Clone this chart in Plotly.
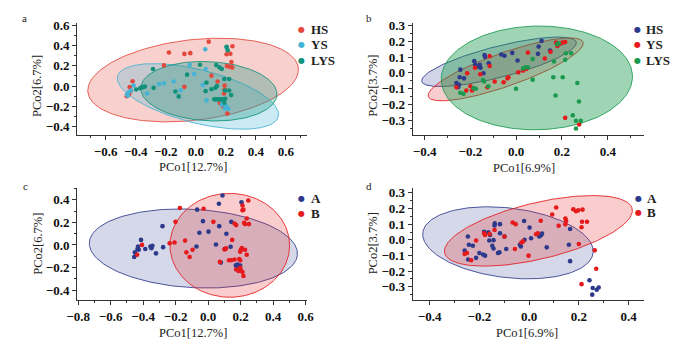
import numpy as np
import plotly.graph_objects as go

# ---------------- data ----------------
# Panel a (PCo1[12.7%] vs PCo2[6.7%])
a_HS_x = [0.086, -0.179, -0.076, -0.037, 0.244, 0.205, 0.23, 0.237, 0.207, 0.225, 0.242, -0.212, 0.104, 0.145,
          -0.076, -0.421, -0.44, -0.443, -0.432, -0.46, 0.192, 0.192, 0.188, 0.16, 0.17, 0.183, 0.21]
a_HS_y = [0.437, 0.33, 0.317, 0.324, 0.392, 0.314, 0.318, 0.236, 0.197, 0.19, 0.184, 0.204, 0.103, 0.045,
          -0.007, 0.048, -0.01, -0.078, -0.045, -0.1, 0.006, -0.033, -0.072, -0.166, -0.18, -0.2, -0.27]
a_YS_x = [0.063, 0.205, -0.041, -0.011, 0.065, -0.147, -0.212, -0.244, -0.324, -0.414, -0.432, -0.449, -0.458,
          -0.453, -0.101, 0.047, 0.071, 0.173, 0.205, 0.194, 0.216, 0.2, 0.18]
a_YS_y = [0.363, 0.38, 0.21, 0.119, 0.168, 0.045, 0.028, 0.019, -0.072, 0.006, -0.043, -0.063, -0.082,
          -0.095, -0.04, 0.012, -0.14, -0.182, -0.205, -0.221, -0.221, -0.19, -0.15]
a_LYS_x = [0.205, 0.212, 0.136, 0.158, 0.173, 0.028, 0.19, 0.222, 0.065, 0.104, 0.13, 0.194, 0.222, 0.235,
           0.123, 0.135, 0.147, 0.159, 0.171, 0.183, 0.19, 0.196, -0.058, -0.136, -0.114, -0.281, -0.352,
           -0.363, -0.339, -0.371, -0.397, -0.285, 0.071, 0.14]
a_LYS_y = [0.386, 0.353, 0.207, 0.184, 0.168, 0.21, 0.07, 0.07, -0.049, -0.03, -0.017, -0.043, -0.043, -0.088,
           -0.13, -0.13, -0.13, -0.13, -0.13, -0.13, -0.163, -0.124, 0.113, -0.053, -0.101, -0.017, -0.01,
           -0.014, -0.004, -0.02, -0.033, 0.168, 0.035, 0.0]

# Panel b (PCo1[6.9%] vs PCo2[3.7%])
b_HS_x = [0.111, 0.098, 0.148, 0.095, 0.186, -0.138, -0.136, -0.065, -0.051, -0.017, 0.006, -0.179, -0.159,
          -0.156, -0.183, -0.244, -0.247, -0.228, -0.143, -0.261, -0.254, -0.25, -0.17, -0.12]
b_HS_y = [0.202, 0.166, 0.141, 0.12, 0.181, 0.112, 0.101, 0.116, 0.108, 0.126, 0.078, 0.051, 0.051,
          0.032, 0.074, 0.02, -0.028, -0.035, -0.003, -0.064, -0.091, -0.076, 0.04, 0.06]
b_YS_x = [0.174, 0.193, 0.203, 0.214, 0.051, 0.125, 0.15, 0.044, 0.214, 0.275, -0.116, -0.18, -0.214, -0.157,
          -0.116, -0.094, -0.055, -0.038, -0.034, 0.009, 0.03, -0.2, -0.193, -0.218, -0.261, -0.126, 0.18]
b_YS_y = [0.191, 0.185, 0.191, 0.195, 0.128, 0.091, 0.133, 0.024, -0.285, -0.327, 0.106, 0.032, -0.003, -0.009,
          0.043, -0.055, -0.06, -0.035, -0.028, 0.003, 0.014, -0.085, -0.112, -0.112, -0.091, -0.091, 0.17]
b_LYS_x = [0.217, 0.24, 0.214, 0.072, 0.165, 0.051, 0.072, 0.162, 0.203, 0.267, 0.172, 0.274, 0.247, 0.261,
           0.282, 0.261, 0.186, 0.179, -0.145, -0.14, -0.186, -0.176, -0.244, -0.23, -0.122, -0.001, 0.03, 0.041]
b_LYS_y = [0.124, 0.124, 0.082, 0.087, 0.072, 0.035, -0.043, -0.028, -0.028, -0.064, -0.143, -0.181, -0.269,
           -0.304, -0.304, -0.352, 0.187, 0.181, -0.045, -0.055, -0.097, -0.101, -0.126, -0.133, -0.085,
           -0.101, 0.028, 0.035]

# Panel c (PCo1[12.7%] vs PCo2[6.7%])
c_A_x = [-0.281, -0.413, -0.431, -0.435, -0.427, -0.451, -0.455, -0.443, -0.387, -0.355, -0.343, -0.349, -0.321,
         -0.277, 0.088, 0.066, -0.068, 0.205, -0.032, 0.142, 0.068, 0.002, -0.054, 0.112, 0.048, 0.102, 0.138,
         -0.072, 0.078, 0.181, 0.187, 0.177, 0.197, 0.17, 0.19]
c_A_y = [0.167, 0.045, -0.013, -0.036, -0.042, -0.065, -0.106, -0.086, -0.036, -0.013, -0.007, -0.028, -0.074,
         -0.019, 0.438, 0.365, 0.313, 0.379, 0.211, 0.205, 0.167, 0.118, 0.109, 0.1, 0.004, -0.036, -0.016,
         -0.013, -0.156, -0.173, -0.188, -0.202, -0.182, -0.18, -0.2]
c_B_x = [-0.407, -0.437, -0.174, -0.201, -0.237, -0.207, -0.142, -0.134, -0.114, -0.096, 0.247, 0.211, 0.217,
         0.211, -0.028, 0.032, 0.162, 0.172, 0.221, 0.237, 0.227, 0.251, 0.148, 0.227, 0.201, 0.207, 0.197,
         0.237, 0.072, 0.128, 0.142, 0.162, 0.191, 0.197, 0.172, 0.187, 0.201, 0.211, 0.197, 0.217, 0.1, 0.11]
c_B_y = [0.001, -0.086, 0.327, 0.205, 0.016, 0.022, 0.039, -0.065, -0.106, -0.042, 0.394, 0.35, 0.313,
         0.307, 0.321, 0.205, 0.19, 0.176, 0.196, 0.234, 0.185, 0.185, 0.045, -0.042, -0.042, -0.028, -0.06,
         -0.086, -0.15, -0.135, -0.135, -0.129, -0.124, -0.135, -0.217, -0.231, -0.222, -0.24, -0.202, -0.275,
         -0.04, -0.03]

# Panel d (PCo1[6.9%] vs PCo2[3.7%])
d_A_x = [-0.246, -0.226, -0.242, -0.259, -0.245, -0.213, -0.2, -0.185, -0.177, -0.181, -0.164, -0.157, -0.16,
         -0.143, -0.148, -0.143, -0.138, -0.139, -0.117, -0.117, -0.099, -0.092, -0.125, -0.119, -0.037, -0.033,
         -0.018, -0.02, 0.002, 0.008, 0.041, 0.048, 0.052, 0.071, 0.165, 0.16, 0.165, 0.243, 0.256, 0.28,
         0.272, 0.254]
d_A_y = [0.021, -0.038, -0.031, -0.069, -0.126, -0.115, -0.084, -0.094, -0.101, 0.052, 0.048, 0.031, -0.004,
         -0.002, -0.038, -0.055, 0.105, 0.092, 0.1, 0.042, 0.021, -0.059, -0.084, -0.08, -0.031, -0.042,
         0.0, 0.12, 0.078, 0.01, 0.021, 0.03, 0.04, -0.048, 0.069, -0.031, -0.136, -0.258, -0.308, -0.304,
         -0.319, -0.35]
d_B_x = [-0.259, -0.25, -0.233, -0.213, -0.181, -0.177, -0.159, -0.139, -0.099, -0.066, -0.054, -0.057, -0.002,
         0.109, 0.093, 0.047, 0.028, 0.035, -0.031, -0.024, 0.146, 0.149, 0.146, 0.119, 0.178, 0.189, 0.198,
         0.215, 0.213, 0.233, 0.211, 0.2, 0.264, 0.27, 0.211]
d_B_y = [-0.09, -0.084, -0.13, -0.004, 0.042, 0.031, 0.038, 0.063, 0.021, 0.111, 0.1, -0.059, -0.101,
         0.206, 0.162, 0.122, 0.036, 0.042, -0.017, -0.01, 0.136, 0.12, 0.099, 0.09, 0.195, 0.183, 0.189,
         0.193, 0.115, 0.115, 0.08, -0.027, -0.067, -0.185, -0.283]

# Confidence ellipses: centre x, centre y, semi-axis 1, semi-axis 2, rotation (deg, data space)
a_ell_HS = [-0.018, 0.06, 0.712, 0.392, 12]
a_ell_YS = [0.014, -0.101, 0.573, 0.252, -23]
a_ell_LYS = [0.087, -0.05, 0.455, 0.29, -6]
b_ell_HS = [-0.075, 0.07, 0.36, 0.095, 21]
b_ell_YS = [-0.046, 0.022, 0.38, 0.10, 28]
b_ell_LYS = [0.09, -0.032, 0.418, 0.328, 3]
c_ell_A = [-0.091, -0.031, 0.6425, 0.346, -5.7]
c_ell_B = [0.133, -0.003, 0.368, 0.46, 0]
d_ell_A = [-0.085, -0.019, 0.35, 0.219, -15]
d_ell_B = [0.0375, 0.0575, 0.405, 0.172, 23.4]

# colours
C_HS_a, C_YS_a, C_LYS_a = "#e2483b", "#45b3d3", "#11917a"
C_NAVY, C_RED, C_GREEN = "#2d3a8c", "#e41a1c", "#1b9a4f"

FONT = "Liberation Serif"
W, H = 695, 346


def ellipse_xy(p):
    cx, cy, rx, ry, deg = p
    t = np.linspace(0, 2 * np.pi, 200)
    th = np.deg2rad(deg)
    ex = rx * np.cos(t)
    ey = ry * np.sin(t)
    return cx + ex * np.cos(th) - ey * np.sin(th), cy + ex * np.sin(th) + ey * np.cos(th)


def rgba(hexc, a):
    hexc = hexc.lstrip("#")
    r, g, b = int(hexc[0:2], 16), int(hexc[2:4], 16), int(hexc[4:6], 16)
    return f"rgba({r},{g},{b},{a})"


fig = go.Figure()


def add_ellipse(p, color, fa, ax):
    ex, ey = ellipse_xy(p)
    fig.add_trace(go.Scatter(x=ex, y=ey, mode="lines", fill="toself",
                             fillcolor=rgba(color, fa), line=dict(color=rgba(color, 0.85), width=1),
                             hoverinfo="skip", showlegend=False, xaxis="x" + ax, yaxis="y" + ax))


def add_points(xs, ys, color, ax, name):
    fig.add_trace(go.Scatter(x=xs, y=ys, mode="markers", name=name,
                             marker=dict(color=color, size=4.6, line=dict(width=0)),
                             showlegend=False, xaxis="x" + ax, yaxis="y" + ax))


# panel a
add_ellipse(a_ell_HS, C_HS_a, 0.25, "")
add_ellipse(a_ell_YS, C_YS_a, 0.28, "")
add_ellipse(a_ell_LYS, C_LYS_a, 0.30, "")
add_points(a_HS_x, a_HS_y, C_HS_a, "", "HS")
add_points(a_YS_x, a_YS_y, C_YS_a, "", "YS")
add_points(a_LYS_x, a_LYS_y, C_LYS_a, "", "LYS")
# panel b
add_ellipse(b_ell_HS, C_NAVY, 0.22, "2")
add_ellipse(b_ell_YS, C_RED, 0.22, "2")
add_ellipse(b_ell_LYS, C_GREEN, 0.42, "2")
add_points(b_HS_x, b_HS_y, C_NAVY, "2", "HS")
add_points(b_YS_x, b_YS_y, C_RED, "2", "YS")
add_points(b_LYS_x, b_LYS_y, C_GREEN, "2", "LYS")
# panel c
add_ellipse(c_ell_A, C_NAVY, 0.2, "3")
add_ellipse(c_ell_B, C_RED, 0.22, "3")
add_points(c_A_x, c_A_y, C_NAVY, "3", "A")
add_points(c_B_x, c_B_y, C_RED, "3", "B")
# panel d
add_ellipse(d_ell_A, C_NAVY, 0.2, "4")
add_ellipse(d_ell_B, C_RED, 0.22, "4")
add_points(d_A_x, d_A_y, C_NAVY, "4", "A")
add_points(d_B_x, d_B_y, C_RED, "4", "B")


def axis(domain, rng, tickvals, dminor, anchor):
    return dict(domain=domain, range=rng, tickmode="array", tickvals=tickvals,
                ticktext=[(f"{v:.1f}").replace("-", "\u2212") for v in tickvals],
                showline=True, linecolor="#333", linewidth=1, ticks="outside", ticklen=4,
                tickcolor="#333", tickwidth=1, showgrid=False, zeroline=False, anchor=anchor,
                tickfont=dict(family=FONT, size=13, color="#111", weight="bold"),
                minor=dict(dtick=dminor, tick0=0, ticks="outside", ticklen=2, tickcolor="#333", showgrid=False))


xa_dom = [68 / W, 304 / W]
xb_dom = [413 / W, 651 / W]
y_top = [1 - 132 / H, 1 - 18 / H]
y_bot = [1 - 299.3 / H, 1 - 186 / H]

fig.update_layout(
    width=W, height=H, margin=dict(l=0, r=0, t=0, b=0),
    paper_bgcolor="white", plot_bgcolor="white", showlegend=False,
    font=dict(family=FONT, size=13, color="#222"),
    xaxis=axis(xa_dom, [-0.79, 0.738], [-0.6, -0.4, -0.2, 0.0, 0.2, 0.4, 0.6], 0.1, "y"),
    yaxis=axis(y_top, [-0.481, 0.623], [-0.4, -0.2, 0.0, 0.2, 0.4, 0.6], 0.1, "x"),
    xaxis2=axis(xb_dom, [-0.452, 0.559], [-0.4, -0.2, 0.0, 0.2, 0.4], 0.1, "y2"),
    yaxis2=axis(y_top, [-0.394, 0.317], [-0.3, -0.2, -0.1, 0.0, 0.1, 0.2, 0.3], 0.05, "x2"),
    xaxis3=axis(xa_dom, [-0.806, 0.606], [-0.8, -0.6, -0.4, -0.2, 0.0, 0.2, 0.4, 0.6], 0.1, "y3"),
    yaxis3=axis(y_bot, [-0.487, 0.502], [-0.4, -0.2, 0.0, 0.2, 0.4], 0.1, "x3"),
    xaxis4=axis(xb_dom, [-0.468, 0.463], [-0.4, -0.2, 0.0, 0.2, 0.4], 0.1, "y4"),
    yaxis4=axis(y_bot, [-0.384, 0.329], [-0.3, -0.2, -0.1, 0.0, 0.1, 0.2, 0.3], 0.05, "x4"),
)

ann = []


def txt(x, y, s, size=13, angle=0, xanchor="center", weight="normal"):
    ann.append(dict(x=x / W, y=1 - y / H, xref="paper", yref="paper", text=s, showarrow=False,
                    textangle=angle, xanchor=xanchor, yanchor="middle",
                    font=dict(family=FONT, size=size, color="#222", weight=weight)))


# panel letters
txt(14, 13, "a", 11)
txt(368, 13, "b", 11)
txt(15, 184, "c", 11)
txt(368, 184, "d", 11)
# axis titles
txt(187, 164, "PCo1[12.7%]", 12.5)
txt(27, 82, "PCo2[6.7%]", 12.5, angle=-90)
txt(527, 165, "PCo1[6.9%]", 12.5)
txt(372, 82, "PCo2[3.7%]", 12.5, angle=-90)
txt(187, 333, "PCo1[12.7%]", 12.5)
txt(27, 242, "PCo2[6.7%]", 12.5, angle=-90)
txt(530, 333, "PCo1[6.9%]", 12.5)
txt(372, 242, "PCo2[3.7%]", 12.5, angle=-90)


def legend(xm, ys, names, colors):
    for yy, n, c in zip(ys, names, colors):
        ann.append(dict(x=xm / W, y=1 - yy / H, xref="paper", yref="paper", text="\u25cf", showarrow=False,
                        xanchor="center", yanchor="middle", font=dict(family="DejaVu Sans", size=8, color=c)))
        txt(xm + 7, yy, n, 13, xanchor="left", weight="bold")


legend(299, [25, 40, 56], ["HS", "YS", "LYS"], [C_HS_a, C_YS_a, C_LYS_a])
legend(644, [25, 40, 56], ["HS", "YS", "LYS"], [C_NAVY, C_RED, C_GREEN])
legend(299, [196.5, 212], ["A", "B"], [C_NAVY, C_RED])
legend(645, [196, 211], ["A", "B"], [C_NAVY, C_RED])

fig.update_layout(annotations=ann)
fig.write_html("out.html")
